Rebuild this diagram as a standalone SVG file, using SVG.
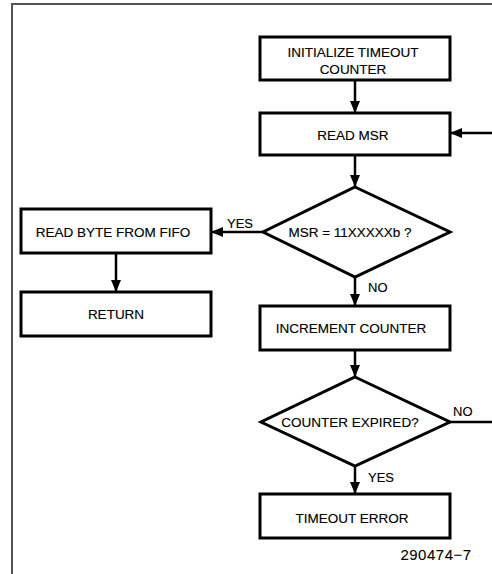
<svg xmlns="http://www.w3.org/2000/svg" width="492" height="574" viewBox="0 0 492 574">
<style>
.box{fill:#fff;stroke:#000;stroke-width:3}
.conn{fill:none;stroke:#000;stroke-width:2.5}
text{font-family:"Liberation Sans",Arial,sans-serif;font-size:13.5px;fill:#000;stroke:#000;stroke-width:0.15;text-anchor:middle}
.lbl{font-size:13px;text-anchor:start}
.frame{fill:none;stroke:#555;stroke-width:2}
</style>
<defs>
<marker id="ah" markerUnits="userSpaceOnUse" markerWidth="12" markerHeight="10" viewBox="0 0 12 10" refX="12" refY="5" orient="auto">
<path d="M0,0 L12,5 L0,10 z" fill="#000"/>
</marker>
</defs>
<path class="frame" d="M12,574 V4 H492"/>
<g id="connectors">
<line class="conn" x1="355" y1="80" x2="355" y2="113" marker-end="url(#ah)"/>
<line class="conn" x1="355" y1="155" x2="355" y2="187" marker-end="url(#ah)"/>
<line class="conn" x1="263" y1="232" x2="211" y2="232" marker-end="url(#ah)"/>
<line class="conn" x1="116" y1="253" x2="116" y2="292" marker-end="url(#ah)"/>
<line class="conn" x1="355" y1="277" x2="355" y2="306" marker-end="url(#ah)"/>
<line class="conn" x1="355" y1="350" x2="355" y2="377" marker-end="url(#ah)"/>
<line class="conn" x1="355" y1="466" x2="355" y2="494" marker-end="url(#ah)"/>
<line class="conn" x1="450" y1="422" x2="492" y2="422"/>
<line class="conn" x1="492" y1="133" x2="450" y2="133" marker-end="url(#ah)"/>
<text class="lbl" x="227" y="228">YES</text>
<text class="lbl" x="368" y="292">NO</text>
<text class="lbl" x="453" y="416">NO</text>
<text class="lbl" x="368" y="482">YES</text>
</g>
<g id="init">
<rect class="box" x="260" y="37" width="190" height="43"/>
<text x="353" y="57">INITIALIZE TIMEOUT</text>
<text x="353" y="74">COUNTER</text>
</g>
<g id="readmsr">
<rect class="box" x="260" y="113" width="190" height="42"/>
<text x="353" y="140">READ MSR</text>
</g>
<g id="msrcheck">
<polygon class="box" points="355,187 450,232 355,277 263,232"/>
<text x="350" y="237">MSR = 11XXXXXb ?</text>
</g>
<g id="readbyte">
<rect class="box" x="21" y="209" width="190" height="44"/>
<text x="113" y="237">READ BYTE FROM FIFO</text>
</g>
<g id="return">
<rect class="box" x="21" y="292" width="190" height="44"/>
<text x="116" y="319">RETURN</text>
</g>
<g id="increment">
<rect class="box" x="260" y="306" width="190" height="44"/>
<text x="351" y="333">INCREMENT COUNTER</text>
</g>
<g id="expired">
<polygon class="box" points="355,377 450,422 355,466 261,422"/>
<text x="350" y="427">COUNTER EXPIRED?</text>
</g>
<g id="timeout">
<rect class="box" x="260" y="494" width="190" height="44"/>
<text x="352" y="523">TIMEOUT ERROR</text>
</g>
<text x="436" y="560" style="font-size:15px;letter-spacing:0.5px;stroke-width:0.1">290474−7</text>
</svg>
